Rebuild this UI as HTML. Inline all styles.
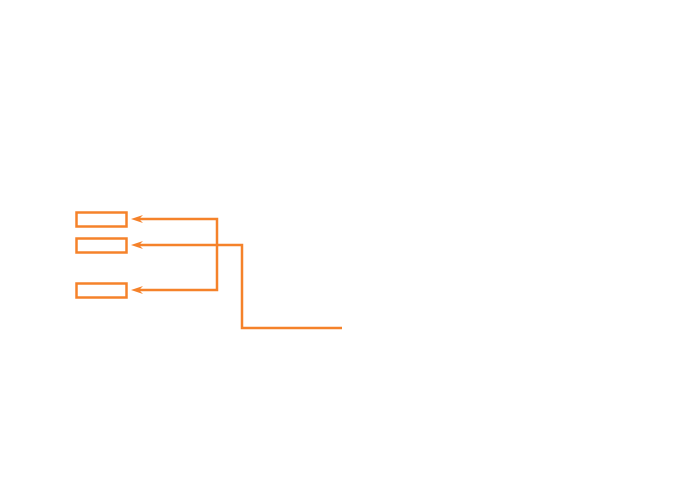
<!DOCTYPE html>
<html><head><style>html,body{margin:0;padding:0;background:#fff}</style></head>
<body>
<svg width="680" height="490" xmlns="http://www.w3.org/2000/svg">
<g fill="none" stroke="#f5822a" stroke-width="2.5">
<rect x="76.5" y="212.5" width="50" height="14"/>
<rect x="76.5" y="238.5" width="50" height="14"/>
<rect x="76.5" y="283.5" width="50" height="14"/>
<polyline points="136,219 217,219 217,290 136,290"/>
<polyline points="136,245 242,245 242,328 342,328"/>
</g>
<g fill="#f5822a">
<path d="M131,219 L143,215 L139,219 L143,223 Z"/>
<path d="M131,245 L143,241 L139,245 L143,249 Z"/>
<path d="M131,290 L143,286 L139,290 L143,294 Z"/>
</g>
</svg>
</body></html>
